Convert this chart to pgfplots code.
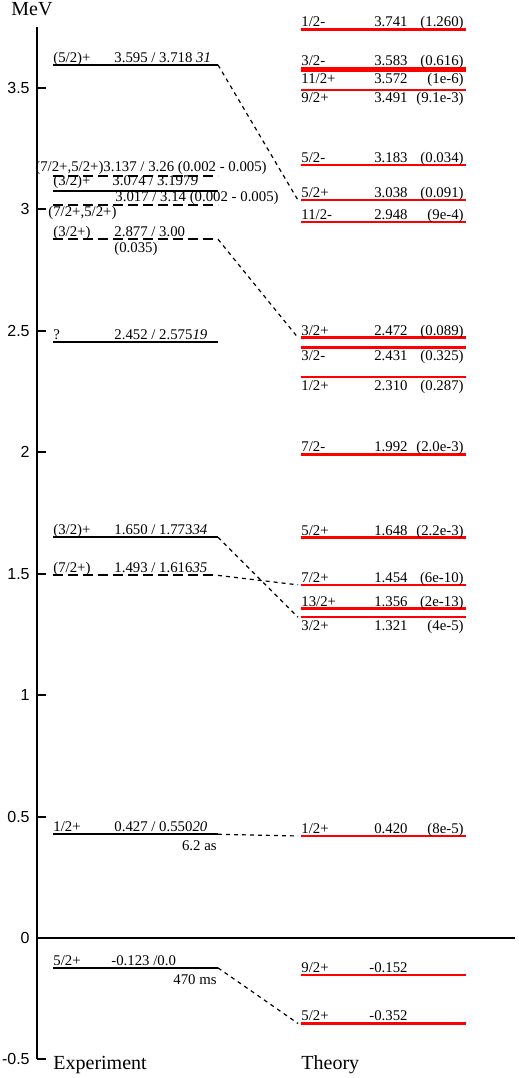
\documentclass[border=0pt]{standalone}
\usepackage{pgfplots}
\pgfplotsset{compat=1.18}
\usepackage{fontspec}
\setmainfont{Liberation Serif}
\setsansfont{Liberation Sans}

\tikzset{lab/.style={font=\fontsize{7.4}{8.5}\selectfont, inner sep=0pt}}
\pgfplotsset{
  exsolid/.style={black, line width=1pt},
  exdash/.style={black, line width=1pt, dash pattern=on 5pt off 2.5pt},
  link/.style={black, line width=0.6pt, dash pattern=on 2pt off 2pt},
  th/.style={red, line width=1.3pt},
}

% theory labels: energy, yshift, spin, value, width
\newcommand{\thlab}[5]{%
  \node[lab, anchor=base west] at (axis cs:301,#1) [yshift=#2] {#3};
  \node[lab, anchor=base east] at (axis cs:408,#1) [yshift=#2] {#4};
  \node[lab, anchor=base east] at (axis cs:464,#1) [yshift=#2] {#5};
}
% experiment labels: energy, yshift, spin, value
\newcommand{\exlab}[4]{%
  \node[lab, anchor=base west] at (axis cs:53,#1) [yshift=#2] {#3};
  \node[lab, anchor=base west] at (axis cs:114,#1) [yshift=#2] {#4};
}

\begin{document}
\begin{tikzpicture}
\begin{axis}[
  scale only axis, width=239pt, height=516.07pt,
  xmin=37, xmax=515, ymin=-0.5, ymax=3.75,
  clip=false,
  axis x line=none, axis y line=left,
  y axis line style={-, line width=1pt},
  ytick={-0.5,0,0.5,1,1.5,2,2.5,3,3.5},
  yticklabels={-0.5,0,0.5,1,1.5,2,2.5,3,3.5},
  tick align=inside, major tick length=4.5pt,
  ytick style={line width=1pt, black},
  yticklabel style={font=\sffamily\fontsize{8}{9}\selectfont, inner sep=0pt, xshift=-3.5pt},
]
% zero line
\addplot[black, line width=1pt] coordinates {(37,0) (515,0)};

% experiment levels
\addplot[exsolid] coordinates {(53,-0.123) (218,-0.123)};
\addplot[exsolid] coordinates {(53,0.427) (218,0.427)};
\addplot[exdash]  coordinates {(53,1.493) (218,1.493)};
\addplot[exsolid] coordinates {(53,1.650) (218,1.650)};
\addplot[exsolid] coordinates {(53,2.452) (218,2.452)};
\addplot[exdash]  coordinates {(53,2.877) (218,2.877)};
\addplot[exdash]  coordinates {(53,3.017) (218,3.017)};
\addplot[exsolid] coordinates {(53,3.074) (218,3.074)};
\addplot[exdash]  coordinates {(53,3.137) (218,3.137)};
\addplot[exsolid] coordinates {(53,3.595) (218,3.595)};

% theory levels
\addplot[th] coordinates {(301,3.741) (466,3.741)};
\addplot[th] coordinates {(301,3.583) (466,3.583)};
\addplot[th] coordinates {(301,3.572) (466,3.572)};
\addplot[th] coordinates {(301,3.491) (466,3.491)};
\addplot[th] coordinates {(301,3.183) (466,3.183)};
\addplot[th] coordinates {(301,3.038) (466,3.038)};
\addplot[th] coordinates {(301,2.948) (466,2.948)};
\addplot[th] coordinates {(301,2.472) (466,2.472)};
\addplot[th] coordinates {(301,2.431) (466,2.431)};
\addplot[th] coordinates {(301,2.310) (466,2.310)};
\addplot[th] coordinates {(301,1.992) (466,1.992)};
\addplot[th] coordinates {(301,1.648) (466,1.648)};
\addplot[th] coordinates {(301,1.454) (466,1.454)};
\addplot[th] coordinates {(301,1.356) (466,1.356)};
\addplot[th] coordinates {(301,1.321) (466,1.321)};
\addplot[th] coordinates {(301,0.420) (466,0.420)};
\addplot[th] coordinates {(301,-0.152) (466,-0.152)};
\addplot[th] coordinates {(301,-0.352) (466,-0.352)};

% experiment -> theory links
\addplot[link] coordinates {(218,-0.123) (298,-0.352)};
\addplot[link] coordinates {(218,0.427) (298,0.420)};
\addplot[link] coordinates {(218,1.493) (298,1.454)};
\addplot[link] coordinates {(218,1.650) (298,1.321)};
\addplot[link] coordinates {(218,2.877) (298,2.472)};
\addplot[link] coordinates {(218,3.595) (298,3.038)};

% experiment text
\exlab{-0.123}{1.4pt}{5/2+}{\hspace{-1.5pt}-0.123 /0.0}
\node[lab, anchor=base east] at (axis cs:217,-0.123) [yshift=-8.2pt] {470 ms};
\exlab{0.427}{1.4pt}{1/2+}{0.427 / 0.550\textit{20}}
\node[lab, anchor=base east] at (axis cs:217,0.427) [yshift=-8.2pt] {6.2 as};
\exlab{1.493}{1.4pt}{(7/2+)}{1.493 / 1.616\textit{35}}
\exlab{1.650}{1.4pt}{(3/2)+}{1.650 / 1.773\textit{34}}
\exlab{2.452}{1.4pt}{?}{2.452 / 2.575\textit{19}}
\exlab{2.877}{1.6pt}{(3/2+)}{2.877 / 3.00}
\node[lab, anchor=base west] at (axis cs:114,2.877) [yshift=-6.5pt] {(0.035)};
\node[lab, anchor=base west] at (axis cs:115,3.017) [yshift=2pt] {3.017 / 3.14 (0.002 - 0.005)};
\node[lab, anchor=base west] at (axis cs:48,3.017) [yshift=-5.5pt] {(7/2+,5/2+)};
\exlab{3.074}{3pt}{(3/2)+}{\hspace{-1pt}3.074 / 3.197\textit{9}}
\node[lab, anchor=base west] at (axis cs:35,3.137) [yshift=2.5pt] {(7/2+,5/2+)3.137 / 3.26 (0.002 - 0.005)};
\exlab{3.595}{1.4pt}{(5/2)+}{3.595 / 3.718 \textit{31}}

% theory text
\thlab{3.741}{1.3pt}{1/2-}{3.741}{(1.260)}
\thlab{3.583}{1.3pt}{3/2-}{3.583}{(0.616)}
\thlab{3.572}{-6.3pt}{11/2+}{3.572}{(1e-6)}
\thlab{3.491}{-6.3pt}{9/2+}{3.491}{(9.1e-3)}
\thlab{3.183}{1.3pt}{5/2-}{3.183}{(0.034)}
\thlab{3.038}{1.3pt}{5/2+}{3.038}{(0.091)}
\thlab{2.948}{1.3pt}{11/2-}{2.948}{(9e-4)}
\thlab{2.472}{1.3pt}{3/2+}{2.472}{(0.089)}
\thlab{2.431}{-6.6pt}{3/2-}{2.431}{(0.325)}
\thlab{2.310}{-6.6pt}{1/2+}{2.310}{(0.287)}
\thlab{1.992}{1.3pt}{7/2-}{1.992}{(2.0e-3)}
\thlab{1.648}{1.3pt}{5/2+}{1.648}{(2.2e-3)}
\thlab{1.454}{1.3pt}{7/2+}{1.454}{(6e-10)}
\thlab{1.356}{1.3pt}{13/2+}{1.356}{(2e-13)}
\thlab{1.321}{-6.6pt}{3/2+}{1.321}{(4e-5)}
\thlab{0.420}{1.3pt}{1/2+}{0.420}{(8e-5)}
\thlab{-0.152}{1.3pt}{9/2+}{-0.152}{}
\thlab{-0.352}{1.3pt}{5/2+}{-0.352}{}

% headings
\node[font=\fontsize{10}{12}\selectfont, anchor=base, inner sep=0pt] at (axis cs:32,3.7965) {MeV};
\node[font=\fontsize{10}{12}\selectfont, anchor=base west, inner sep=0pt] at (axis cs:53,-0.5435) {Experiment};
\node[font=\fontsize{10}{12}\selectfont, anchor=base west, inner sep=0pt] at (axis cs:301,-0.5435) {Theory};

\coordinate (bbl) at (axis cs:0,-0.5765);
\coordinate (btr) at (axis cs:518,3.8623);
\end{axis}
\pgfresetboundingbox
\path[use as bounding box] (bbl) rectangle (btr);
\end{tikzpicture}
\end{document}
